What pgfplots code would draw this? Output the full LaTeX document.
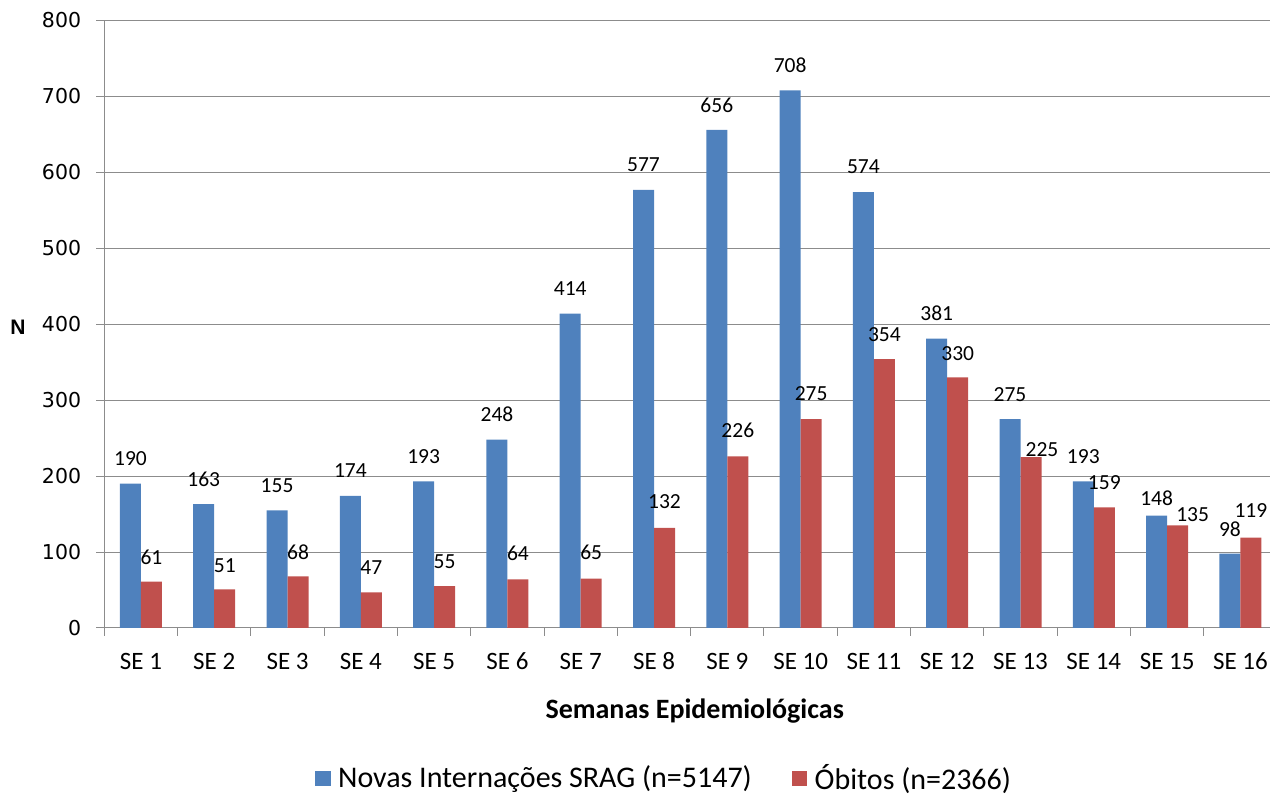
\documentclass[border=0pt]{standalone}
\usepackage{fontspec}
\setmainfont{Carlito}
\newfontfamily\dejavu{DejaVu Sans}
\newfontfamily\arialfont{Liberation Sans}
\usepackage{pgfplots}
\usepackage{pgfplotstable}
\pgfplotsset{compat=1.18}
\definecolor{sblue}{HTML}{4F81BD}
\definecolor{sred}{HTML}{C0504D}
\definecolor{gridc}{HTML}{8C8C8C}

\pgfplotstableread{
x v dy dx
1 190 25 0
2 163 25 0
3 155 25 0
4 174 25 0
5 193 25 0
6 248 25 0
7 414 25 0
8 577 25 0
9 656 25 0
10 708 25 0
11 574 25 0
12 381 25 0
13 275 25 0
14 193 25 0
15 148 17 0
16 98 24 0
}\bluedata

\pgfplotstableread{
x v dy dx
1 61 24 0
2 51 24 0
3 68 24 0
4 47 25 0
5 55 25 0
6 64 26 0
7 65 26 0
8 132 26 0
9 226 26 0
10 275 26 0
11 354 25 0
12 330 24 0
13 225 8 11
14 159 25 0
15 135 11 15
16 119 27 0
}\reddata

\begin{document}
\begin{tikzpicture}
\begin{axis}[
  at={(104.3pt,167pt)}, anchor=south west,
  scale only axis, width=1172.8pt, height=607.5pt,
  xmin=0.5, xmax=16.5, ymin=0, ymax=800,
  enlargelimits=false, clip=false,
  ybar=0pt, bar width=21pt,
  xtick={1,...,16},
  xticklabels={SE 1,SE 2,SE 3,SE 4,SE 5,SE 6,SE 7,SE 8,SE 9,SE 10,SE 11,SE 12,SE 13,SE 14,SE 15,SE 16},
  minor xtick={0.5,1.5,...,16.5},
  ytick={0,100,...,800},
  ymajorgrids, major grid style={gridc, line width=1pt},
  axis lines=left, axis line style={-, gridc, line width=1pt},
  tick align=outside, tick style={gridc, line width=1pt},
  major tick length=8pt, minor tick length=8pt,
  major x tick style={draw=none},
  /pgf/number format/assume math mode=true,
  x tick label style={font=\fontsize{25}{30}\selectfont, anchor=base, yshift=-34pt, inner sep=0pt},
  y tick label style={font=\dejavu\fontsize{20.5}{24}\selectfont, anchor=east, inner sep=0pt, xshift=-15pt},
  xlabel={Semanas Epidemiológicas},
  xlabel style={at={(axis description cs:0.5,0)}, anchor=base, yshift=-91pt, xshift=4pt, inner sep=0pt, font=\bfseries\fontsize{28}{34}\selectfont},
  ylabel={N},
  ylabel style={at={(axis description cs:0,0.5)}, rotate=-90, anchor=center, xshift=-86.3pt, yshift=-3pt, inner sep=0pt, font=\arialfont\bfseries\fontsize{21}{25}\selectfont},
  visualization depends on={\thisrow{dy} \as \lbly},
  visualization depends on={\thisrow{dx} \as \lblx},
  nodes near coords,
  every node near coord/.append style={font=\fontsize{21.5}{26}\selectfont, anchor=center, inner sep=0pt, text=black, xshift=\lblx pt, yshift=\lbly pt},
  legend columns=2,
  legend image code/.code={\fill[#1,draw=none] (0pt,-9pt) rectangle (15.6pt,6.6pt);},
  legend style={draw=none, fill=none, at={(0.1797,-0.2460)}, anchor=west, inner sep=0pt,
    font=\fontsize{30}{36}\selectfont,
    nodes={inner sep=0pt},
    /tikz/every odd column/.append style={column sep=7.3pt},
    /tikz/every even column/.append style={column sep=40pt}},
]
\addplot[fill=sblue, draw=none] table[x=x, y=v] {\bluedata};
\addlegendentry{Novas Internações SRAG (n=5147)}
\addplot[fill=sred, draw=none] table[x=x, y=v] {\reddata};
\addlegendentry{Óbitos (n=2366)}
\end{axis}
\pgfresetboundingbox
\useasboundingbox (0,0) rectangle (1270pt,795pt);
\end{tikzpicture}
\end{document}
